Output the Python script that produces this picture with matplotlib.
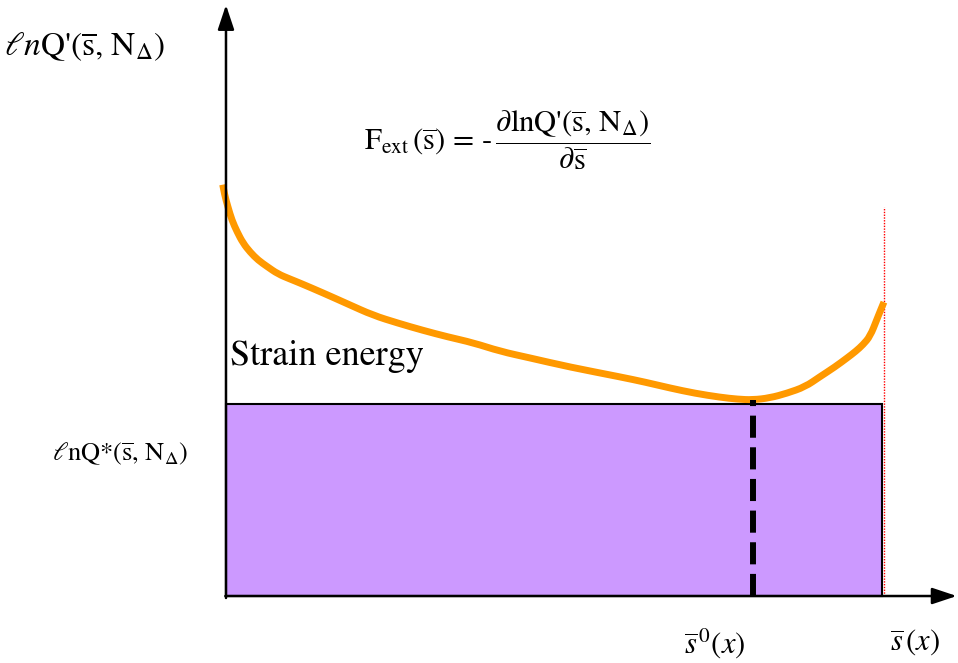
import matplotlib
matplotlib.use("Agg")
import matplotlib.pyplot as plt
from matplotlib.patches import Rectangle, PathPatch
from matplotlib.path import Path

plt.rcParams['mathtext.fontset'] = 'stix'
plt.rcParams['font.family'] = 'STIXGeneral'

# free energy curve lnQ'(s, N) over the strain coordinate s
curve_s = [-0.05, -0.02, 0.03, 0.09, 0.17, 0.26, 0.37, 0.49, 0.63, 0.79, 0.98,
           1.13, 1.48, 1.86, 2.24, 2.62, 3.00, 3.38, 3.77, 4.18, 4.63, 5.24,
           6.01, 6.39, 6.77, 7.15, 7.53, 7.80, 8.03, 8.29, 8.55, 8.83, 9.05,
           9.28, 9.47, 9.60, 9.71, 9.82, 9.92, 9.98, 10.03]
curve_lnq = [6.27, 6.11, 5.93, 5.73, 5.55, 5.38, 5.24, 5.12, 5.02, 4.91, 4.83,
             4.77, 4.62, 4.45, 4.28, 4.16, 4.05, 3.95, 3.86, 3.73, 3.63, 3.49,
             3.34, 3.26, 3.17, 3.09, 3.03, 3.00, 2.99, 3.02, 3.09, 3.19, 3.34,
             3.49, 3.63, 3.73, 3.83, 3.96, 4.21, 4.36, 4.48]

lnq_star = 2.92     # reference level lnQ*(s, N)
s_max = 10.0        # end of the strain range
s0 = 8.03           # equilibrium strain s0(x)
s0_lnq = 2.99
y_top = 9.01
x_end = 11.14


def smooth_path(xs, ys):
    # quadratic bezier through the midpoints, using the points as controls
    pts = list(zip(xs, ys))
    verts = [pts[0]]
    codes = [Path.MOVETO]
    for i in range(1, len(pts) - 1):
        if i < len(pts) - 2:
            end = ((pts[i][0] + pts[i + 1][0]) / 2, (pts[i][1] + pts[i + 1][1]) / 2)
        else:
            end = pts[-1]
        verts += [pts[i], end]
        codes += [Path.CURVE3, Path.CURVE3]
    return Path(verts, codes)


fig = plt.figure(figsize=(9.58, 6.63), dpi=100)
ax = fig.add_axes([0, 0, 1, 1])
ax.set_xlim(-3.445, 11.159)
ax.set_ylim(-1.021, 9.085)
ax.axis('off')

# strain energy region below lnQ*
ax.add_patch(Rectangle((0, 0), s_max, lnq_star, facecolor='#CC99FF',
                       edgecolor='black', lw=1.5, zorder=1))

ax.add_patch(PathPatch(smooth_path(curve_s, curve_lnq), fill=False,
                       edgecolor='#FF9900', lw=5, capstyle='butt',
                       joinstyle='round', zorder=3))

ax.plot([s0, s0], [0, s0_lnq], color='black', lw=4.3,
        dashes=(3.7, 1.6), zorder=4)
ax.plot([s_max + 0.03, s_max + 0.03], [0, curve_lnq[2]], color='red',
        lw=1.0, linestyle=(0, (1, 1)), zorder=2)

# axes arrows
arrow = dict(arrowstyle='-|>,head_length=1.5,head_width=0.5', lw=1.8,
             color='black', shrinkA=0, shrinkB=0)
ax.annotate('', xy=(0, y_top), xytext=(0, -0.03), arrowprops=arrow, zorder=5)
ax.annotate('', xy=(x_end, 0), xytext=(-0.01, 0), arrowprops=arrow, zorder=5)

ax.text(-2.15, 8.37, r"$\ell n$Q'($\overline{\mathrm{s}}$, N$_{\Delta}$)",
        fontsize=24, ha='center', va='center')
ax.text(4.28, 6.95,
        r"$\mathrm{F}_{\mathrm{ext}}\,(\overline{\mathrm{s}})\,=\,\text{-}\,"
        r"\dfrac{\partial\mathrm{lnQ}\text{'}(\overline{\mathrm{s}},\,\mathrm{N}_{\Delta})}"
        r"{\partial\overline{\mathrm{s}}}$",
        fontsize=22, ha='center', va='center')
ax.text(0.06, 3.52, "Strain energy", fontsize=26, ha='left', va='baseline')
ax.text(-1.62, 2.15, r"$\ell$nQ*($\overline{\mathrm{s}}$, N$_{\Delta}$)",
        fontsize=19, ha='center', va='center')
ax.text(7.45, -0.72, r"$\overline{s}^{\,0}(x)$", fontsize=22, ha='center', va='center')
ax.text(10.5, -0.72, r"$\overline{s}\,(x)$", fontsize=22, ha='center', va='center')

fig.savefig('out.png', dpi=100)
